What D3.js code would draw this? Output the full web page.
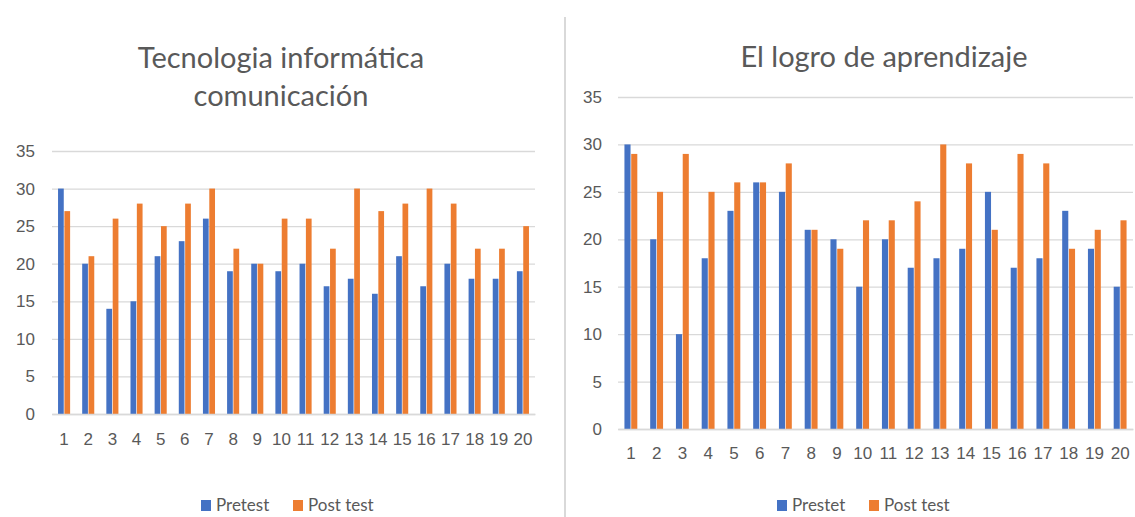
<!DOCTYPE html>
<html>
<head>
<meta charset="utf-8">
<script src="https://cdn.jsdelivr.net/npm/d3@7"></script>
<style>
  body { margin: 0; background: #fff; }
  svg { display: block; font-family: Lato, "Open Sans", sans-serif; }
</style>
</head>
<body>
<svg id="chart" width="1135" height="517"></svg>
<script>
// categories (students 1..20)
var students = d3.range(1, 21).map(String);
var yTicks = [0, 5, 10, 15, 20, 25, 30, 35];

// Tecnologia informática comunicación
var ticPretest = [30, 20, 14, 15, 21, 23, 26, 19, 20, 19, 20, 17, 18, 16, 21, 17, 20, 18, 18, 19];
var ticPosttest = [27, 21, 26, 28, 25, 28, 30, 22, 20, 26, 26, 22, 30, 27, 28, 30, 28, 22, 22, 25];

// El logro de aprendizaje
var logroPretest = [30, 20, 10, 18, 23, 26, 25, 21, 20, 15, 20, 17, 18, 19, 25, 17, 18, 23, 19, 15];
var logroPosttest = [29, 25, 29, 25, 26, 26, 28, 21, 19, 22, 22, 24, 30, 28, 21, 29, 28, 19, 21, 22];

var blue = "#4472c4", orange = "#ed7d31", grey = "#595959";

var svg = d3.select("#chart");

// separator between the two charts
svg.append("line")
  .attr("x1", 565).attr("x2", 565)
  .attr("y1", 17).attr("y2", 517)
  .attr("stroke", "#d9d9d9")
  .attr("stroke-width", 2);

function drawChart(opt) {
  var g = svg.append("g");

  var x = d3.scaleBand()
    .domain(students)
    .range([opt.left, opt.right])
    .paddingInner(0.5)
    .paddingOuter(0.25);

  var xs = d3.scaleBand()
    .domain(["pre", "post"])
    .range([0, x.bandwidth()])
    .paddingInner(0.1);

  var y = d3.scaleLinear()
    .domain([0, 35])
    .range([opt.bottom, opt.top]);

  // title
  g.append("g").selectAll("text")
    .data(opt.title)
    .join("text")
    .attr("x", opt.titleX)
    .attr("y", (d, i) => opt.titleY + i * 38)
    .attr("text-anchor", "middle")
    .attr("fill", grey)
    .style("font-size", "29px")
    .text(d => d);

  // y axis + gridlines
  var yAxis = g.append("g")
    .attr("transform", "translate(" + opt.left + ",0)")
    .call(d3.axisLeft(y).tickValues(yTicks)
      .tickSize(-(opt.right - opt.left)).tickPadding(opt.yPad));
  yAxis.select(".domain").remove();
  yAxis.selectAll(".tick line").attr("stroke", "#d9d9d9").attr("stroke-width", 1.3);
  yAxis.selectAll(".tick text").attr("fill", grey).style("font-size", "17px");

  // bars
  var groups = g.append("g").selectAll("g")
    .data(students)
    .join("g")
    .attr("transform", d => "translate(" + x(d) + ",0)");

  groups.append("rect")
    .attr("x", xs("pre"))
    .attr("width", xs.bandwidth())
    .attr("y", (d, i) => y(opt.pre[i]))
    .attr("height", (d, i) => y(0) - y(opt.pre[i]))
    .attr("fill", blue);

  groups.append("rect")
    .attr("x", xs("post"))
    .attr("width", xs.bandwidth())
    .attr("y", (d, i) => y(opt.post[i]))
    .attr("height", (d, i) => y(0) - y(opt.post[i]))
    .attr("fill", orange);

  // x axis
  var xAxis = g.append("g")
    .attr("transform", "translate(0," + opt.bottom + ")")
    .call(d3.axisBottom(x).tickSize(0).tickPadding(opt.xPad));
  xAxis.select(".domain").attr("stroke", "#d9d9d9").attr("stroke-width", 1.3);
  xAxis.selectAll(".tick text").attr("fill", grey).style("font-size", "17px");

  // legend
  var leg = g.append("g")
    .attr("transform", "translate(" + opt.legendX + "," + opt.legendY + ")");
  var items = [
    { name: opt.preName, color: blue, dx: 0 },
    { name: "Post test", color: orange, dx: opt.legendGap }
  ];
  var it = leg.selectAll("g").data(items).join("g")
    .attr("transform", d => "translate(" + d.dx + ",0)");
  it.append("rect")
    .attr("y", -11).attr("width", 10).attr("height", 11)
    .attr("fill", d => d.color);
  it.append("text")
    .attr("x", 15).attr("y", 0)
    .attr("fill", grey)
    .style("font-size", "17px")
    .text(d => d.name);
}

drawChart({
  title: ["Tecnologia informática", "comunicación"],
  titleX: 281, titleY: 68,
  left: 52, right: 535, top: 151, bottom: 414,
  yPad: 17, xPad: 19,
  pre: ticPretest, post: ticPosttest,
  preName: "Pretest",
  legendX: 201, legendY: 511, legendGap: 92
});

drawChart({
  title: ["El logro de aprendizaje"],
  titleX: 884, titleY: 67,
  left: 618, right: 1133, top: 97, bottom: 429,
  yPad: 16, xPad: 18,
  pre: logroPretest, post: logroPosttest,
  preName: "Prestet",
  legendX: 777, legendY: 511, legendGap: 92
});
</script>
</body>
</html>
